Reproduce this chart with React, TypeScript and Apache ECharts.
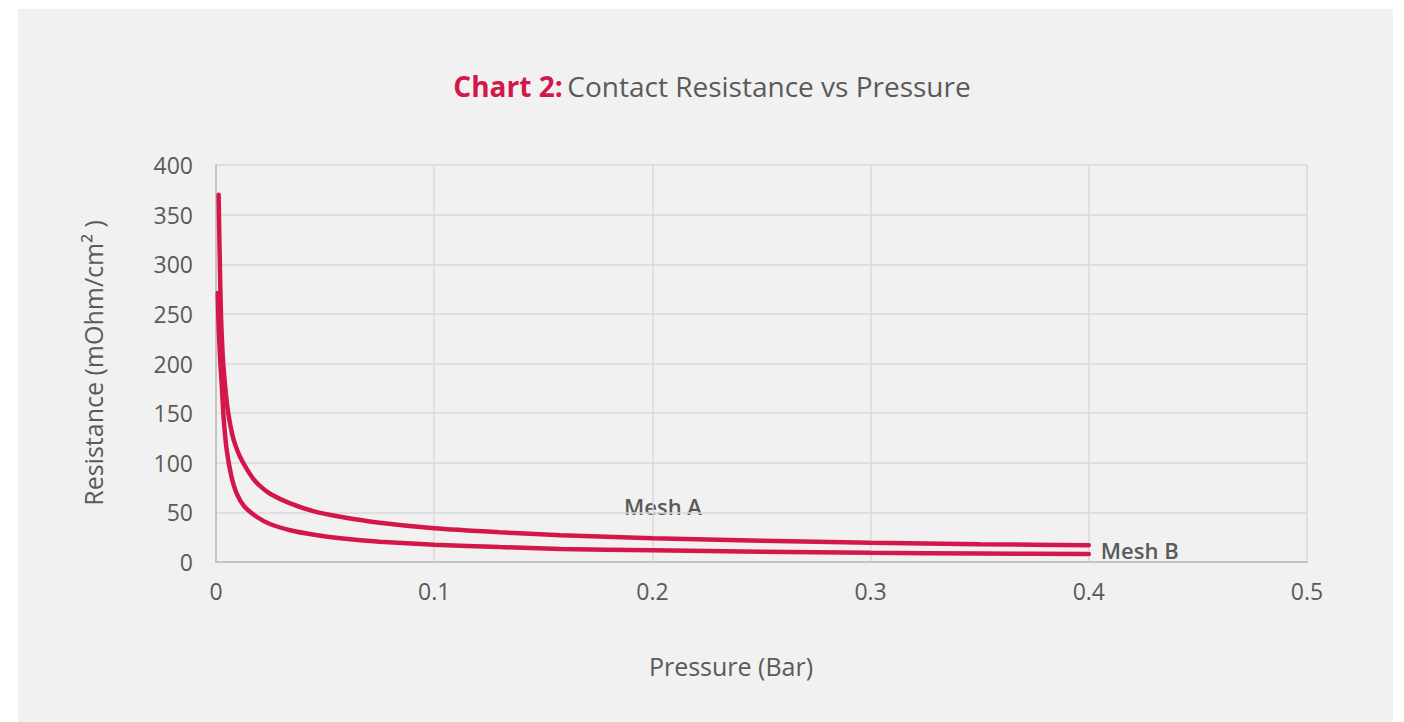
import React, { useEffect, useRef } from "react";
import * as echarts from "echarts";

const meshA: [number, number][] = [
  [0.0012, 370], [0.0015, 330], [0.0019, 285], [0.0023, 247], [0.0028, 220],
  [0.0034, 197], [0.0045, 170], [0.0056, 150], [0.0075, 128], [0.009, 117],
  [0.011, 106], [0.014, 94], [0.017, 84], [0.02, 77], [0.025, 68.5],
  [0.034, 59], [0.045, 51], [0.057, 45.6], [0.075, 39.5], [0.1, 34],
  [0.13, 30], [0.158, 27], [0.2, 24], [0.25, 21.5], [0.3, 19.5],
  [0.35, 18], [0.4, 16.8],
];
const meshB: [number, number][] = [
  [0.0008, 271], [0.0011, 245], [0.0015, 222], [0.002, 200], [0.0026, 180],
  [0.0035, 145], [0.0049, 113], [0.007, 87], [0.0095, 69], [0.013, 56],
  [0.0186, 45.6], [0.025, 38], [0.034, 32], [0.045, 27.5], [0.057, 24],
  [0.075, 20.5], [0.1, 17.5], [0.13, 15], [0.158, 13.2], [0.2, 11.8],
  [0.25, 10.3], [0.3, 9.3], [0.35, 8.6], [0.4, 8],
];
const seriesNames = ["Mesh A", "Mesh B"];
const titleBold = "Chart 2:";
const titleRest = "Contact Resistance vs Pressure";
const xName = "Pressure (Bar)";
const yName = "Resistance (mOhm/cm² )";

const RED = "#d4174a";
const TEXT = "#5a5a5a";
const FONT = "'Open Sans', Lato, sans-serif";

export default function App() {
  const ref = useRef<HTMLDivElement>(null);
  useEffect(() => {
    const chart = echarts.init(ref.current!, null, { renderer: "svg" });
    chart.setOption({
      animation: false,
      backgroundColor: "#ffffff",
      textStyle: { fontFamily: FONT },
      title: {
        left: 707,
        textAlign: "center",
        top: 67,
        text: `{a|${titleBold}} {b|${titleRest}}`,
        textStyle: {
          rich: {
            a: { fontSize: 28, fontWeight: "bold", color: RED, fontFamily: FONT },
            b: { fontSize: 28, fontWeight: "normal", color: TEXT, fontFamily: FONT },
          },
        },
      },
      grid: { left: 216, right: 97, top: 165, bottom: 160, containLabel: false },
      xAxis: {
        type: "value",
        min: 0,
        max: 0.5,
        interval: 0.1,
        axisLine: { show: true, lineStyle: { color: "#c4c4c4", width: 2 } },
        axisTick: { show: false },
        axisLabel: { fontSize: 23, color: TEXT, margin: 17, fontFamily: FONT },
        splitLine: { show: true, lineStyle: { color: "#d9d9d9", width: 1.5 } },
      },
      yAxis: {
        type: "value",
        min: 0,
        max: 400,
        interval: 50,
        axisLine: { show: true, lineStyle: { color: "#c4c4c4", width: 2 } },
        axisTick: { show: false },
        axisLabel: { fontSize: 23, color: TEXT, margin: 23, fontFamily: FONT },
        splitLine: { show: true, lineStyle: { color: "#d9d9d9", width: 1.5 } },
      },
      graphic: [
        {
          type: "rect",
          z: -10,
          silent: true,
          shape: { x: 18, y: 9, width: 1375, height: 713 },
          style: { fill: "#f1f1f1" },
        },
        {
          type: "text",
          x: 731,
          y: 666,
          style: {
            text: xName, fontSize: 25, fill: TEXT, fontFamily: FONT,
            align: "center", verticalAlign: "middle",
          },
        },
        {
          type: "text",
          x: 93,
          y: 363,
          rotation: Math.PI / 2,
          style: {
            text: yName, fontSize: 25, fill: TEXT, fontFamily: FONT,
            align: "center", verticalAlign: "middle",
          },
        },
        {
          type: "text",
          x: 624,
          y: 506,
          style: {
            text: seriesNames[0], fontSize: 22, fontWeight: 600, fill: TEXT, fontFamily: FONT,
            align: "left", verticalAlign: "middle",
          },
        },
      ],
      series: [
        {
          name: seriesNames[0],
          type: "line",
          data: meshA,
          smooth: 0.2,
          showSymbol: false,
          symbol: "none",
          lineStyle: { color: RED, width: 4.5, cap: "round" },
        },
        {
          name: seriesNames[1],
          type: "line",
          data: meshB,
          smooth: 0.2,
          showSymbol: false,
          symbol: "none",
          lineStyle: { color: RED, width: 4.5, cap: "round" },
          endLabel: {
            show: true,
            formatter: seriesNames[1],
            distance: 12,
            offset: [0, -4],
            fontSize: 22,
            fontWeight: 600,
            color: TEXT,
            fontFamily: FONT,
          },
        },
      ],
    });
    return () => chart.dispose();
  }, []);
  return (
    <div
      ref={ref}
      style={{ position: "fixed", left: 0, top: 0, width: 1404, height: 722 }}
    />
  );
}
